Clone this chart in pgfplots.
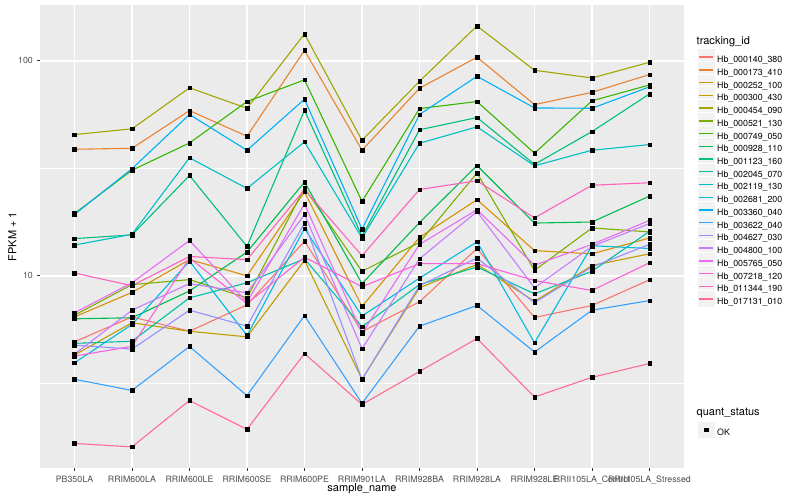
\documentclass[border=0pt]{standalone}
\usepackage{fontspec}
\setmainfont{TeX Gyre Heros}
\usepackage{pgfplots}
\usepackage{pgfplotstable}
\pgfplotsset{compat=1.18}

% ggplot hue palette, 20 levels
\definecolor{c1}{HTML}{F8766D}
\definecolor{c2}{HTML}{EA8331}
\definecolor{c3}{HTML}{D89000}
\definecolor{c4}{HTML}{C09B00}
\definecolor{c5}{HTML}{A3A500}
\definecolor{c6}{HTML}{7CAE00}
\definecolor{c7}{HTML}{39B600}
\definecolor{c8}{HTML}{00BB4E}
\definecolor{c9}{HTML}{00BF7D}
\definecolor{c10}{HTML}{00C1A3}
\definecolor{c11}{HTML}{00BFC4}
\definecolor{c12}{HTML}{00BAE0}
\definecolor{c13}{HTML}{00B0F6}
\definecolor{c14}{HTML}{35A2FF}
\definecolor{c15}{HTML}{9590FF}
\definecolor{c16}{HTML}{C77CFF}
\definecolor{c17}{HTML}{E76BF3}
\definecolor{c18}{HTML}{FA62DB}
\definecolor{c19}{HTML}{FF62BC}
\definecolor{c20}{HTML}{FF6C91}
\definecolor{panelbg}{HTML}{EBEBEB}
\definecolor{keybg}{HTML}{F2F2F2}
\definecolor{gray20}{HTML}{333333}
\definecolor{gray30}{HTML}{4D4D4D}

% FPKM + 1 per sample (x = sample index)
\pgfplotstableread{
x s1 s2 s3 s4 s5 s6 s7 s8 s9 s10 s11 s12 s13 s14 s15 s16 s17 s18 s19 s20
0 4.93 38.8 6.44 4.28 45.4 6.56 19.5 6.31 14.9 4.85 13.9 3.94 19.3 3.30 4.76 4.32 6.73 4.23 10.3 1.66
1 6.44 39.2 8.37 6.05 48.3 9.1 31.0 6.38 15.5 4.96 15.6 5.94 31.5 2.93 4.56 6.92 9.28 4.70 9.0 1.60
2 5.52 58.7 11.9 5.52 74.9 9.6 41.5 8.5 29.3 7.9 35.4 11.7 56.3 4.69 6.92 9.2 14.6 12.1 12.3 2.63
3 7.33 44.6 10.0 5.2 60.2 7.9 64.7 12.9 13.7 9.28 25.5 5.28 38.4 2.77 5.83 8.33 7.54 7.43 11.9 1.93
4 14.5 112 24.6 11.8 133.5 25.6 81.6 27.3 58.9 12.0 42.0 16.6 66.3 6.53 17.6 19.3 21.6 12.2 25.2 4.35
5 5.5 38.4 7.2 3.3 42.7 10.5 22.2 9.2 15.3 5.8 15.0 6.5 16.5 2.55 3.3 4.58 5.4 8.9 12.4 2.52
6 7.57 74.6 15.1 8.8 80.4 14.3 60.0 17.7 47.8 9.1 41.4 9.75 56.3 5.83 9.0 12.0 14.0 11.4 25.2 3.59
7 13.4 104 22.6 11.3 145.4 30.1 64.7 32.6 54.5 11.0 49.3 14.4 84.8 7.28 12.1 19.9 20.3 11.4 27.7 5.11
8 6.4 62.6 13.1 7.6 90.4 10.6 37.2 17.6 33.0 8.24 32.5 4.88 60.4 4.42 7.5 8.8 11.2 9.5 18.6 2.73
9 7.28 71.4 12.65 11.16 83.3 16.7 65.2 17.8 46.9 10.5 38.4 13.8 60.2 6.92 11.0 13.7 14.0 8.55 26.4 3.37
10 9.58 86.4 15.0 12.66 98.5 16.0 77.3 23.5 70.2 16.1 40.8 13.4 75.7 7.67 14.0 17.5 18.1 11.5 27.1 3.91
}\fpkm

\begin{document}
\begin{tikzpicture}
\begin{axis}[
    at={(0pt,0pt)}, anchor=south west,
    scale only axis,
    width=644pt, height=463pt,
    xmin=-0.6, xmax=10.6,
    ymode=log, ymin=1.276, ymax=182,
    xtick={0,...,10},
    xticklabels={PB350LA,RRIM600LA,RRIM600LE,RRIM600SE,RRIM600PE,RRIM901LA,RRIM928BA,RRIM928LA,RRIM928LE,RRII105LA\_Control,RRII105LA\_Stressed},
    ytick={10,100}, yticklabels={10,100},
    minor ytick={3.16228,31.6228},
    xmajorgrids, ymajorgrids, yminorgrids,
    major grid style={white, line width=1.4pt},
    minor grid style={white, line width=0.7pt},
    axis background/.style={fill=panelbg},
    axis line style={draw=none},
    tick pos=left, tick align=outside,
    major tick length=2.75pt, minor tick length=0pt,
    tick style={color=gray20, line width=1pt},
    xticklabel style={font=\fontsize{8.8}{10}\selectfont, text=gray30, inner sep=0pt, anchor=base, yshift=-11.3pt},
    yticklabel style={font=\fontsize{8.8}{10}\selectfont, text=gray30, inner sep=0pt, anchor=east, xshift=-4.2pt},
    xlabel={sample\_name},
    ylabel={FPKM + 1},
    every axis x label/.style={at={(axis description cs:0.5,-0.0515)}, anchor=base, inner sep=0pt, font=\fontsize{11}{13}\selectfont},
    every axis y label/.style={at={(axis description cs:-0.0365,0.5)}, anchor=base, rotate=90, inner sep=0pt, font=\fontsize{11}{13}\selectfont},
    legend entries={Hb\_000140\_380,Hb\_000173\_410,Hb\_000252\_100,Hb\_000300\_430,Hb\_000454\_090,Hb\_000521\_130,Hb\_000749\_050,Hb\_000928\_110,Hb\_001123\_160,Hb\_002045\_070,Hb\_002119\_130,Hb\_002681\_200,Hb\_003360\_040,Hb\_003622\_040,Hb\_004627\_030,Hb\_004800\_100,Hb\_005765\_050,Hb\_007218\_120,Hb\_011344\_190,Hb\_017131\_010},
    legend cell align=left,
    legend style={at={(1.0202,0.9071)}, anchor=north west, draw=none, fill=none,
        inner sep=0pt, row sep=-5.25pt, column sep=2pt,
        font=\fontsize{8.8}{10}\selectfont, nodes={inner sep=0pt, text=black}},
    legend image code/.code={
        \path[fill=keybg, draw=white, line width=0.7pt] (0pt,-5.6pt) rectangle (17.28pt,11.68pt);
        \draw[#1, line width=1.4pt] (1.7pt,3.04pt) -- (15.58pt,3.04pt);
    },
]
\pgfplotsinvokeforeach{1,...,20}{
  \addplot[c#1, line width=1.1pt, mark=none] table[x=x, y=s#1] {\fpkm};
}
\pgfplotsinvokeforeach{1,...,20}{
  \addplot[only marks, mark=square*, mark size=1.8pt, black, forget plot] table[x=x, y=s#1] {\fpkm};
}
\end{axis}

% second legend: quant_status
\begin{axis}[
    at={(0pt,0pt)}, anchor=south west,
    scale only axis, width=644pt, height=463pt,
    hide axis, xmin=0, xmax=1, ymin=0, ymax=1,
    legend cell align=left,
    legend style={at={(1.0202,0.1022)}, anchor=north west, draw=none, fill=none,
        inner sep=0pt, row sep=0pt, column sep=2pt,
        font=\fontsize{8.8}{10}\selectfont, nodes={inner sep=0pt, text=black}},
    legend image code/.code={
        \path[fill=keybg, draw=white, line width=0.7pt] (0pt,-5.6pt) rectangle (17.28pt,11.68pt);
        \draw[#1] plot coordinates {(8.64pt,3.04pt)};
    },
]
\addlegendimage{only marks, mark=square*, mark size=1.6pt, black}
\addlegendentry{OK}
\end{axis}

\node[anchor=base west, inner sep=0pt, font=\fontsize{11}{13}\selectfont] at (656.5pt,423.5pt) {tracking\_id};
\node[anchor=base west, inner sep=0pt, font=\fontsize{11}{13}\selectfont] at (656.5pt,52.4pt) {quant\_status};

\pgfresetboundingbox
\useasboundingbox (-40pt,-32pt) rectangle (760pt,468pt);
\end{tikzpicture}
\end{document}
